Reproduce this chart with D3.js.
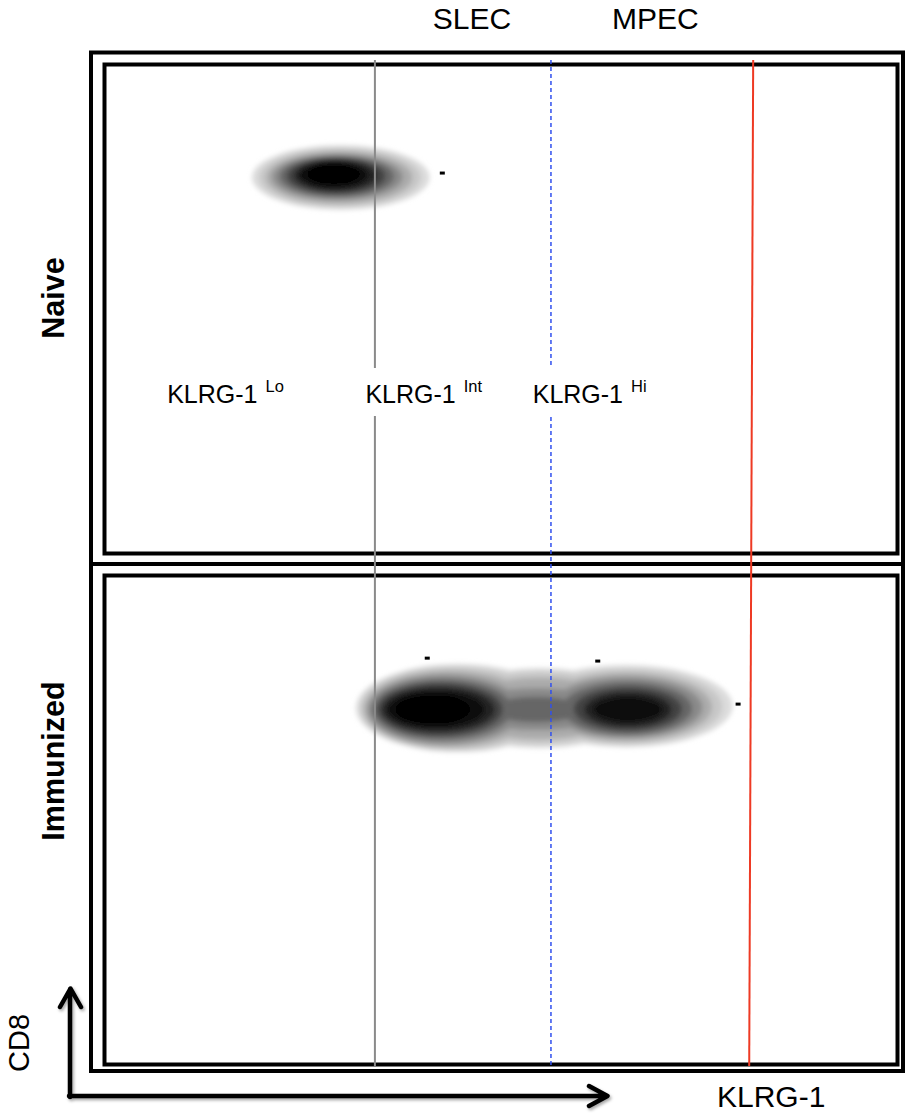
<!DOCTYPE html>
<html>
<head>
<meta charset="utf-8">
<script src="https://cdn.jsdelivr.net/npm/d3@7/dist/d3.min.js"></script>
<style>
  html, body { margin: 0; padding: 0; background: #fff; }
  svg { display: block; }
  text { font-family: "Liberation Sans", Arial, Helvetica, sans-serif; fill: #000; }
</style>
</head>
<body>
<script>
// ---------------- DATA ----------------
const panelNames = ["Naive", "Immunized"];
const subsetLabels = ["SLEC", "MPEC"];
const subsetX = [41.4, 64.0];                 // KLRG-1 axis units (0-100)
const popBase = ["KLRG-1", "KLRG-1", "KLRG-1"];
const popSup = ["Lo", "Int", "Hi"];
const popX = [7.9, 32.9, 54.0];
const popBoxed = [false, true, true];
const gateNames = ["int", "hi", "max"];
const gateXTop = [34.1, 56.3, 81.8];
const gateXBottom = [34.1, 56.3, 81.3];
// density contour levels (darkness 0..1)
const levelDarkness = [0.14, 0.22, 0.33, 0.46, 0.60, 0.74, 0.86, 0.95, 1.0];
// Naive panel: contour ellipses per level
const naiveCx = [29.8, 29.7, 29.6, 29.4, 29.3, 29.2, 29.1, 28.9, 28.9];
const naiveCy = [76.9, 76.9, 76.9, 77.0, 77.1, 77.2, 77.3, 77.4, 77.6];
const naiveRx = [11.2, 10.2, 9.2, 8.2, 7.2, 6.2, 5.2, 4.3, 3.3];
const naiveRy = [6.6, 6.0, 5.4, 4.7, 4.2, 3.7, 3.2, 2.7, 2.0];
// Immunized panel: left lobe (SLEC side)
const immLeftCx = [44.6, 44.1, 43.5, 42.9, 42.6, 42.3, 42.1, 41.8, 41.4];
const immLeftCy = [72.9, 72.8, 72.7, 72.6, 72.6, 72.6, 72.6, 72.6, 72.6];
const immLeftRx = [12.9, 11.9, 10.8, 9.7, 8.8, 7.9, 7.1, 6.1, 4.7];
const immLeftRy = [9.0, 8.5, 7.8, 7.1, 6.2, 5.4, 4.6, 3.8, 3.0];
// right lobe (MPEC side)
const immRightCx = [65.8, 65.8, 65.8, 65.8, 65.9, 66.0, 66.0, 66.0];
const immRightCy = [73.3, 73.2, 73.1, 73.0, 72.8, 72.7, 72.6, 72.6];
const immRightRx = [13.4, 12.1, 10.8, 9.6, 8.2, 6.8, 5.5, 4.3];
const immRightRy = [8.4, 7.7, 7.0, 6.2, 5.4, 4.5, 3.6, 2.6];
// valley between lobes
const immBridgeCx = [54.9, 54.9, 54.9, 54.6, 54.4];
const immBridgeCy = [72.9, 72.9, 72.8, 72.7, 72.6];
const immBridgeRx = [12.6, 11.3, 10.2, 9.5, 6.0];
const immBridgeRy = [8.2, 7.4, 6.3, 4.3, 2.6];
// isolated events
const naiveEvents = [[42.6, 77.8]];
const immEvents = [[40.7, 83.1], [62.2, 82.5], [79.9, 73.7]];
const xAxisLabel = "KLRG-1";
const yAxisLabel = "CD8";

// ---------------- LAYOUT ----------------
const W = 907, H = 1116;
const svg = d3.select("body").append("svg").attr("width", W).attr("height", H);
const defs = svg.append("defs");
defs.append("filter").attr("id", "soft").attr("x", "-20%").attr("y", "-50%")
  .attr("width", "140%").attr("height", "200%")
  .append("feGaussianBlur").attr("stdDeviation", 2.4);
const sh = defs.append("filter").attr("id", "shadow").attr("x", "-10%").attr("y", "-10%")
  .attr("width", "130%").attr("height", "130%");
sh.append("feDropShadow").attr("dx", 1.5).attr("dy", 2).attr("stdDeviation", 1.5)
  .attr("flood-color", "#000").attr("flood-opacity", 0.35);

const x = d3.scaleLinear().domain([0, 100]).range([104.5, 897.5]);
const panelTop = [64.5, 575.5], panelBottom = [553.5, 1064.5];
const yScales = panelTop.map((t, i) => d3.scaleLinear().domain([0, 100]).range([panelBottom[i], t]));
const grey = d => { const v = Math.round(255 * (1 - d)); return d3.rgb(v, v, v).toString(); };

// ---------- density blobs ----------
function drawBlob(g, y, comps) {
  const bg = g.append("g").attr("filter", "url(#soft)");
  levelDarkness.forEach((dk, k) => {
    comps.forEach(c => {
      if (k >= c.rx.length) return;
      bg.append("ellipse")
        .attr("cx", x(c.cx[k])).attr("cy", y(c.cy[k]))
        .attr("rx", x(c.rx[k]) - x(0))
        .attr("ry", y(0) - y(c.ry[k]))
        .attr("fill", grey(dk));
    });
  });
}
const g0 = svg.append("g");
drawBlob(g0, yScales[0], [{cx: naiveCx, cy: naiveCy, rx: naiveRx, ry: naiveRy}]);
drawBlob(g0, yScales[1], [
  {cx: immBridgeCx, cy: immBridgeCy, rx: immBridgeRx, ry: immBridgeRy},
  {cx: immLeftCx, cy: immLeftCy, rx: immLeftRx, ry: immLeftRy},
  {cx: immRightCx, cy: immRightCy, rx: immRightRx, ry: immRightRy}
]);

[[naiveEvents, yScales[0]], [immEvents, yScales[1]]].forEach(([ev, y]) => {
  g0.selectAll(null).data(ev).enter().append("rect")
    .attr("x", d => x(d[0]) - 2.5).attr("y", d => y(d[1]) - 1.5)
    .attr("width", 5).attr("height", 3).attr("fill", "#000");
});

// ---------- frames ----------
const fr = svg.append("g").attr("fill", "none").attr("stroke", "#000").attr("stroke-width", 4);
fr.append("rect").attr("x", 91).attr("y", 52.5).attr("width", 812).attr("height", 1018.5);
fr.append("line").attr("x1", 89).attr("x2", 905).attr("y1", 564).attr("y2", 564);
panelTop.forEach((t, i) => {
  fr.append("rect").attr("x", x(0)).attr("y", t)
    .attr("width", x(100) - x(0)).attr("height", panelBottom[i] - t);
});

// ---------- gate lines ----------
const gateStyle = {
  int: {stroke: "#8a8a8a", w: 2, dash: null},
  hi: {stroke: "#3050ee", w: 1.5, dash: "4,3"},
  max: {stroke: "#ee3a24", w: 2, dash: null}
};
const gy = d3.scaleLinear().domain([0, 1]).range([60, 1066]);
gateNames.forEach((n, i) => {
  const s = gateStyle[n];
  svg.append("line")
    .attr("x1", x(gateXTop[i])).attr("x2", x(gateXBottom[i]))
    .attr("y1", gy(0)).attr("y2", gy(1))
    .attr("stroke", s.stroke).attr("stroke-width", s.w)
    .attr("stroke-dasharray", s.dash);
});

// ---------- population labels ----------
popBase.forEach((t, i) => {
  const x0 = x(popX[i]);
  if (popBoxed[i]) {
    svg.append("rect").attr("x", x0 - 3).attr("y", 368).attr("width", 128).attr("height", 48)
      .attr("fill", "#fff");
  }
  const tx = svg.append("text").attr("x", x0).attr("y", 403).attr("font-size", 25);
  tx.append("tspan").text(t);
  tx.append("tspan").attr("dx", 8).attr("dy", -11).attr("font-size", 16.5).text(popSup[i]);
});

// subset labels
subsetLabels.forEach((t, i) => {
  svg.append("text").attr("x", x(subsetX[i])).attr("y", 29).attr("font-size", 30).text(t);
});

// panel labels
const panelCy = [298, 761];
panelNames.forEach((n, i) => {
  svg.append("text").attr("transform", `translate(64,${panelCy[i]}) rotate(-90)`)
    .attr("text-anchor", "middle").attr("font-size", 30.5).attr("font-weight", "bold").text(n);
});

// ---------- axes arrows ----------
const ar = svg.append("g").attr("fill", "none").attr("stroke", "#000").attr("stroke-width", 4.5)
  .attr("stroke-linecap", "round").attr("stroke-linejoin", "round").attr("filter", "url(#shadow)");
ar.append("path").attr("d", "M70,1097 V989 M60,1007 L70.5,988.5 L81,1007");
ar.append("path").attr("d", "M69,1096 H606 M589,1086 L607.5,1096 L589,1106");

svg.append("text").attr("x", 717).attr("y", 1107).attr("font-size", 30).text(xAxisLabel);
svg.append("text").attr("transform", "translate(29,1043) rotate(-90)")
  .attr("text-anchor", "middle").attr("font-size", 29).text(yAxisLabel);
</script>
</body>
</html>
